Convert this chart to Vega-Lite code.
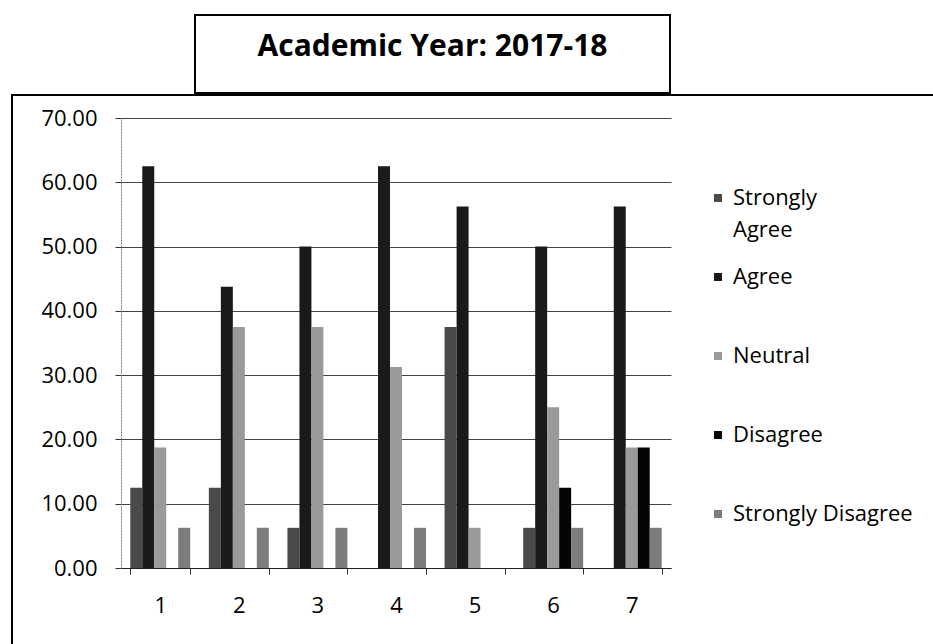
{
  "$schema": "https://vega.github.io/schema/vega-lite/v6.json",
  "padding": {"left": 11, "top": 14, "right": 0, "bottom": 0},
  "background": "white",
  "config": {
    "view": {"stroke": null},
    "font": "Open Sans"
  },
  "datasets": {
    "survey": [
      {"q": "1", "response": "Strongly Agree", "value": 12.5},
      {"q": "1", "response": "Agree", "value": 62.5},
      {"q": "1", "response": "Neutral", "value": 18.75},
      {"q": "1", "response": "Disagree", "value": 0},
      {"q": "1", "response": "Strongly Disagree", "value": 6.25},
      {"q": "2", "response": "Strongly Agree", "value": 12.5},
      {"q": "2", "response": "Agree", "value": 43.75},
      {"q": "2", "response": "Neutral", "value": 37.5},
      {"q": "2", "response": "Disagree", "value": 0},
      {"q": "2", "response": "Strongly Disagree", "value": 6.25},
      {"q": "3", "response": "Strongly Agree", "value": 6.25},
      {"q": "3", "response": "Agree", "value": 50},
      {"q": "3", "response": "Neutral", "value": 37.5},
      {"q": "3", "response": "Disagree", "value": 0},
      {"q": "3", "response": "Strongly Disagree", "value": 6.25},
      {"q": "4", "response": "Strongly Agree", "value": 0},
      {"q": "4", "response": "Agree", "value": 62.5},
      {"q": "4", "response": "Neutral", "value": 31.25},
      {"q": "4", "response": "Disagree", "value": 0},
      {"q": "4", "response": "Strongly Disagree", "value": 6.25},
      {"q": "5", "response": "Strongly Agree", "value": 37.5},
      {"q": "5", "response": "Agree", "value": 56.25},
      {"q": "5", "response": "Neutral", "value": 6.25},
      {"q": "5", "response": "Disagree", "value": 0},
      {"q": "5", "response": "Strongly Disagree", "value": 0},
      {"q": "6", "response": "Strongly Agree", "value": 6.25},
      {"q": "6", "response": "Agree", "value": 50},
      {"q": "6", "response": "Neutral", "value": 25},
      {"q": "6", "response": "Disagree", "value": 12.5},
      {"q": "6", "response": "Strongly Disagree", "value": 6.25},
      {"q": "7", "response": "Strongly Agree", "value": 0},
      {"q": "7", "response": "Agree", "value": 56.25},
      {"q": "7", "response": "Neutral", "value": 18.75},
      {"q": "7", "response": "Disagree", "value": 18.75},
      {"q": "7", "response": "Strongly Disagree", "value": 6.25}
    ],
    "titleText": [{"t": "Academic Year: 2017-18"}]
  },
  "vconcat": [
    {
      "hconcat": [
        {
          "width": 182,
          "height": 78,
          "data": {"values": []},
          "mark": {"type": "text"},
          "encoding": {}
        },
        {
          "width": 475,
          "height": 78,
          "view": {"stroke": "black", "strokeWidth": 2, "fill": "white"},
          "data": {"name": "titleText"},
          "mark": {"type": "text", "font": "Open Sans", "fontSize": 30, "fontWeight": "bold", "color": "black", "baseline": "alphabetic", "align": "center", "dy": 2},
          "encoding": {"text": {"field": "t"}}
        }
      ],
      "spacing": 0
    },
    {
      "width": 930,
      "height": 560,
      "view": {"stroke": "black", "strokeWidth": 2},
      "data": {"name": "survey"},
      "mark": {"type": "bar"},
      "encoding": {
        "x": {
          "field": "q",
          "type": "nominal",
          "scale": {"range": [109, 659], "paddingInner": 0.237, "paddingOuter": 0.118},
          "axis": {
            "title": null,
            "labelAngle": 0,
            "offset": -87,
            "tickBand": "extent",
            "tickSize": 6,
            "tickColor": "#333",
            "domainColor": "#222",
            "labelFont": "Open Sans",
            "labelFontSize": 22,
            "labelColor": "black",
            "labelPadding": 21
          }
        },
        "xOffset": {
          "field": "response",
          "type": "nominal",
          "sort": ["Strongly Agree", "Agree", "Neutral", "Disagree", "Strongly Disagree"],
          "scale": {"paddingInner": 0, "paddingOuter": 0}
        },
        "y": {
          "field": "value",
          "type": "quantitative",
          "scale": {"domain": [0, 70], "range": [473, 23], "nice": false},
          "axis": {
            "title": null,
            "values": [0, 10, 20, 30, 40, 50, 60, 70],
            "format": ".2f",
            "offset": -109,
            "tickSize": 6,
            "tickColor": "#333",
            "domainColor": "#777",
            "domainDash": [2, 1],
            "gridColor": "#444",
            "gridWidth": 1,
            "labelFont": "Open Sans",
            "labelFontSize": 22,
            "labelColor": "black",
            "labelPadding": 18
          }
        },
        "color": {
          "field": "response",
          "type": "nominal",
          "sort": ["Strongly Agree", "Agree", "Neutral", "Disagree", "Strongly Disagree"],
          "scale": {
            "domain": ["Strongly Agree", "Agree", "Neutral", "Disagree", "Strongly Disagree"],
            "range": ["#4a4a4a", "#1a1a1a", "#9a9a9a", "#050505", "#7c7c7c"]
          },
          "legend": {
            "title": null,
            "orient": "none",
            "legendX": 695,
            "legendY": 172,
            "padding": 0,
            "symbolType": "square",
            "symbolSize": 64,
            "symbolStrokeWidth": 0,
            "labelFont": "Open Sans",
            "labelFontSize": 22,
            "labelColor": "black",
            "labelOffset": 4,
            "labelLimit": 300,
            "rowPadding": 25,
            "labelExpr": "datum.label == 'Strongly Agree' ? ['Strongly', 'Agree'] : [datum.label, '']",
            "encode": {"labels": {"update": {"lineHeight": {"value": 32}}}}
          }
        }
      }
    }
  ],
  "spacing": 0
}
